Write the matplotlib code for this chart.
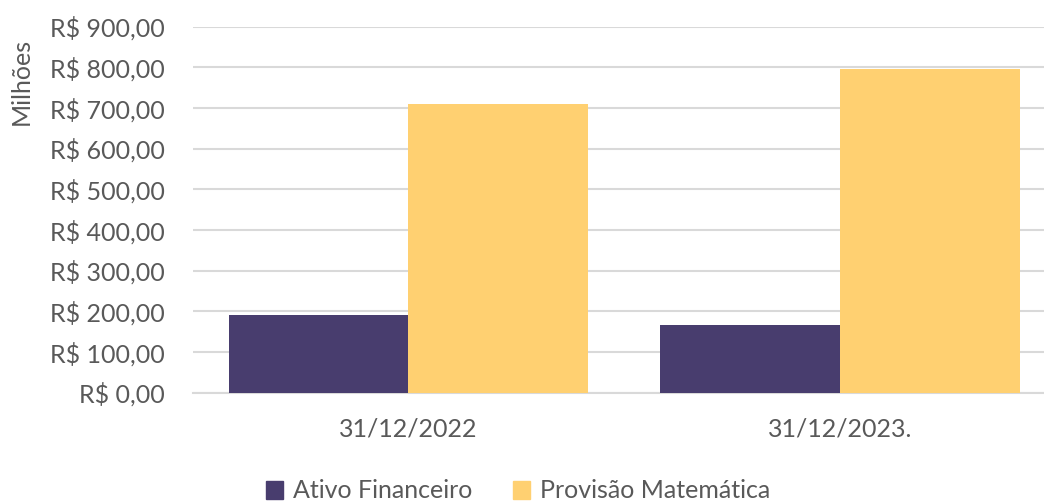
import matplotlib
matplotlib.use("Agg")
import matplotlib.pyplot as plt
from matplotlib.patches import Patch
from matplotlib.ticker import FuncFormatter
import numpy as np

categories = ["31/12/2022", "31/12/2023."]
series_names = ["Ativo Financeiro", "Provisão Matemática"]
ativo = [191, 167]
provisao = [709, 797]
colors = ["#483D6E", "#FFD071"]

plt.rcParams['font.family'] = ['Lato', 'DejaVu Sans']
txt = "#595959"
fs = 18

W, H = 1044, 501
fig = plt.figure(figsize=(W / 100, H / 100), dpi=100)
left, right, bottom, top = 192.5, 1056, 392.7, 26.7
ax = fig.add_axes([left / W, 1 - bottom / H, (right - left) / W, (bottom - top) / H])

x = np.arange(len(categories))
bw = 0.4163
ax.bar(x - bw / 2, ativo, width=bw, color=colors[0], zorder=3)
ax.bar(x + bw / 2, provisao, width=bw, color=colors[1], zorder=3)

ax.set_xlim(-0.5, 1.5)
ax.set_ylim(0, 900)
ax.set_yticks(np.arange(0, 901, 100))
ax.yaxis.set_major_formatter(FuncFormatter(lambda v, p: f"R$ {v:,.2f}".replace(",", "X").replace(".", ",").replace("X", ".")))
ax.set_xticks(x)
ax.set_xticklabels(categories)
ax.grid(axis='y', color='#D9D9D9', linewidth=1.5, zorder=0)
for s in ['top', 'right', 'left']:
    ax.spines[s].set_visible(False)
ax.spines['bottom'].set_color('#D9D9D9')
ax.spines['bottom'].set_linewidth(1.5)
ax.tick_params(axis='both', length=0, labelsize=fs, labelcolor=txt)
ax.tick_params(axis='y', pad=20)
ax.tick_params(axis='x', pad=18)

fig.text(21 / W, 1 - 81 / H, "Milhões", rotation=90, ha='center', va='center', fontsize=fs, color=txt)

handles = [Patch(color=c) for c in colors]
leg = fig.legend(handles, series_names, loc='center', bbox_to_anchor=(518 / W, 1 - 491 / H),
                 ncol=2, frameon=False, fontsize=fs, handlelength=0.7, handleheight=0.7,
                 handletextpad=0.4, columnspacing=1.6, labelcolor=txt)

fig.savefig("out.png", dpi=100)
